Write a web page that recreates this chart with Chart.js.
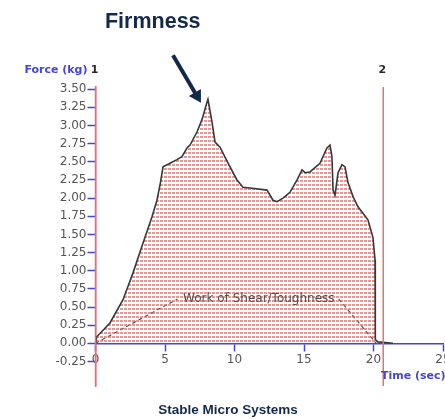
<!DOCTYPE html>
<html>
<head>
<meta charset="utf-8">
<script src="https://cdn.jsdelivr.net/npm/chart.js@4.4.1/dist/chart.umd.min.js"></script>
<style>
  html, body { margin: 0; padding: 0; background: #fff; }
  #wrap { width: 445px; height: 419px; position: relative; }
</style>
</head>
<body>
<div id="wrap"><canvas id="c" width="445" height="419"></canvas></div>
<script>
// Texture analyser trace: force (kg) against time (sec)
const timeSec = [0, 0.09, 1.04, 1.98, 2.70, 3.42, 4.06, 4.42, 4.64, 4.86, 5.36, 5.86, 6.22, 6.58, 6.80,
  7.30, 7.66, 8.02, 8.09, 8.38, 8.60, 8.96, 9.17, 9.68, 10.18, 10.61, 11.12, 12.34, 12.77, 13.06,
  13.49, 13.99, 14.50, 14.86, 15.07, 15.43, 16.15, 16.65, 16.87, 17.01, 17.09, 17.23, 17.45, 17.73,
  17.95, 18.17, 18.53, 18.88, 19.24, 19.60, 19.96, 20.11, 20.13, 20.32, 21.4];
const forceKg = [0, 0.09, 0.28, 0.60, 0.97, 1.38, 1.74, 1.97, 2.18, 2.43, 2.48, 2.53, 2.57, 2.69, 2.73,
  2.91, 3.08, 3.32, 3.36, 3.05, 2.77, 2.70, 2.62, 2.43, 2.25, 2.15, 2.14, 2.11, 1.97, 1.95,
  2.00, 2.08, 2.25, 2.39, 2.35, 2.36, 2.48, 2.69, 2.73, 2.57, 2.11, 2.04, 2.35, 2.46,
  2.43, 2.21, 2.02, 1.88, 1.79, 1.70, 1.46, 1.15, 0.05, 0.02, 0];

// Dashed guide for the work of shear label (gap where the text sits)
const workTime = [0, 5.9, 11.75, 17.5, 20.2];
const workForce = [0, 0.61, null, 0.61, 0];
const workLabel = 'Work of Shear/Toughness';

// Axis ticks
const xTicks = [0, 5, 10, 15, 20, 25];
const yTicks = [-0.25, 0, 0.25, 0.5, 0.75, 1, 1.25, 1.5, 1.75, 2, 2.25, 2.5, 2.75, 3, 3.25, 3.5];

// Anchor markers
const markerTimes = [0, 20.7];
const markerLabels = ['1', '2'];

const canvas = document.getElementById('c');
const ctx0 = canvas.getContext('2d');

// Red dotted hatch used under the curve
function makeHatch() {
  const tile = document.createElement('canvas');
  tile.width = 4; tile.height = 4;
  const g = tile.getContext('2d');
  g.fillStyle = 'rgba(208,88,88,0.62)';
  g.fillRect(0, 0, 3, 2);
  return ctx0.createPattern(tile, 'repeat');
}

const AXIS_BLUE = '#4545d8';
const MARK_RED = '#e27272';
const NAVY = '#14294a';
const tickFont = { family: '"DejaVu Sans"', size: 12 };

const overlay = {
  id: 'overlay',
  afterDraw(chart) {
    const { ctx, chartArea, scales } = chart;
    const xs = scales.x, ys = scales.y;
    ctx.save();

    // marker lines with their numbers
    markerTimes.forEach((t, i) => {
      const px = xs.getPixelForValue(t);
      ctx.strokeStyle = MARK_RED;
      ctx.lineWidth = 1.5;
      ctx.beginPath();
      ctx.moveTo(px, chartArea.top);
      ctx.lineTo(px, chartArea.bottom);
      ctx.stroke();
      ctx.fillStyle = '#2a2a2a';
      ctx.font = 'bold 11px "DejaVu Sans"';
      ctx.textAlign = 'center';
      ctx.textBaseline = 'middle';
      ctx.fillText(markerLabels[i], px - 1, chartArea.top - 17);
    });

    // axis titles
    ctx.fillStyle = AXIS_BLUE;
    ctx.font = 'bold 11px "DejaVu Sans"';
    ctx.textBaseline = 'middle';
    ctx.textAlign = 'right';
    ctx.fillText('Force (kg)', xs.getPixelForValue(0) - 8, chartArea.top - 17);
    ctx.textAlign = 'left';
    ctx.fillText('Time (sec)', 381, ys.getPixelForValue(0) + 33);

    // work of shear label
    ctx.fillStyle = '#505050';
    ctx.font = '12px "DejaVu Sans"';
    ctx.textAlign = 'center';
    ctx.fillText(workLabel, xs.getPixelForValue(workTime[2]), ys.getPixelForValue(workForce[1]));

    // firmness call-out pointing at the peak
    let pk = 0;
    forceKg.forEach((v, i) => { if (v > forceKg[pk]) pk = i; });
    const px = xs.getPixelForValue(timeSec[pk]);
    const py = ys.getPixelForValue(forceKg[pk]);
    const tip = [px - 7, py + 3.5];
    const start = [px - 35, py - 44];
    const dx = tip[0] - start[0], dy = tip[1] - start[1];
    const len = Math.hypot(dx, dy), ux = dx / len, uy = dy / len;
    const headL = 12, headW = 7;
    const bx = tip[0] - ux * headL, by = tip[1] - uy * headL;
    ctx.strokeStyle = NAVY;
    ctx.fillStyle = NAVY;
    ctx.lineWidth = 4;
    ctx.beginPath();
    ctx.moveTo(start[0], start[1]);
    ctx.lineTo(bx + ux * 2, by + uy * 2);
    ctx.stroke();
    ctx.beginPath();
    ctx.moveTo(tip[0], tip[1]);
    ctx.lineTo(bx - uy * headW, by + ux * headW);
    ctx.lineTo(bx + uy * headW, by - ux * headW);
    ctx.closePath();
    ctx.fill();

    ctx.font = 'bold 21.5px "Liberation Sans"';
    ctx.textAlign = 'left';
    ctx.textBaseline = 'alphabetic';
    ctx.fillText('Firmness', px - 103, 27.5);

    ctx.font = 'bold 13.5px "Liberation Sans"';
    ctx.textAlign = 'center';
    ctx.fillText('Stable Micro Systems', 228, 413.5);

    ctx.restore();
  }
};

new Chart(canvas, {
  type: 'line',
  data: {
    datasets: [
      {
        data: timeSec.map((t, i) => ({ x: t, y: forceKg[i] })),
        borderColor: '#383838',
        borderWidth: 1.6,
        pointRadius: 0,
        tension: 0,
        fill: 'origin',
        backgroundColor: makeHatch()
      },
      {
        data: workTime.map((t, i) => ({ x: t, y: workForce[i] })),
        borderColor: '#555555',
        borderWidth: 1.2,
        borderDash: [4, 3],
        pointRadius: 0,
        spanGaps: false,
        fill: false
      }
    ]
  },
  options: {
    responsive: false,
    animation: false,
    devicePixelRatio: 1,
    layout: { padding: { left: 35.5, right: 2, top: 87, bottom: 33 } },
    plugins: { legend: { display: false }, tooltip: { enabled: false }, title: { display: false } },
    scales: {
      x: {
        type: 'linear',
        position: { y: 0 },
        min: 0,
        max: 25,
        afterBuildTicks: s => { s.ticks = xTicks.map(v => ({ value: v })); },
        afterFit: s => { s.paddingLeft = 0; s.paddingRight = 0; },
        ticks: { font: tickFont, color: '#555', padding: 2, maxRotation: 0, autoSkip: false, callback: v => String(v) },
        grid: { drawOnChartArea: false, drawTicks: true, tickLength: 7, tickColor: AXIS_BLUE, tickWidth: 1.5 },
        border: { color: AXIS_BLUE, width: 1.5 }
      },
      y: {
        type: 'linear',
        min: -0.588,
        max: 3.53,
        afterBuildTicks: s => { s.ticks = yTicks.map(v => ({ value: v })); },
        afterFit: s => { s.width = 60; },
        ticks: { font: tickFont, color: '#555', padding: 1, autoSkip: false, callback: v => v.toFixed(2) },
        grid: { drawOnChartArea: false, drawTicks: true, tickLength: 8, tickColor: AXIS_BLUE, tickWidth: 1.5 },
        border: { color: MARK_RED, width: 1.5 }
      }
    }
  },
  plugins: [overlay]
});
</script>
</body>
</html>
